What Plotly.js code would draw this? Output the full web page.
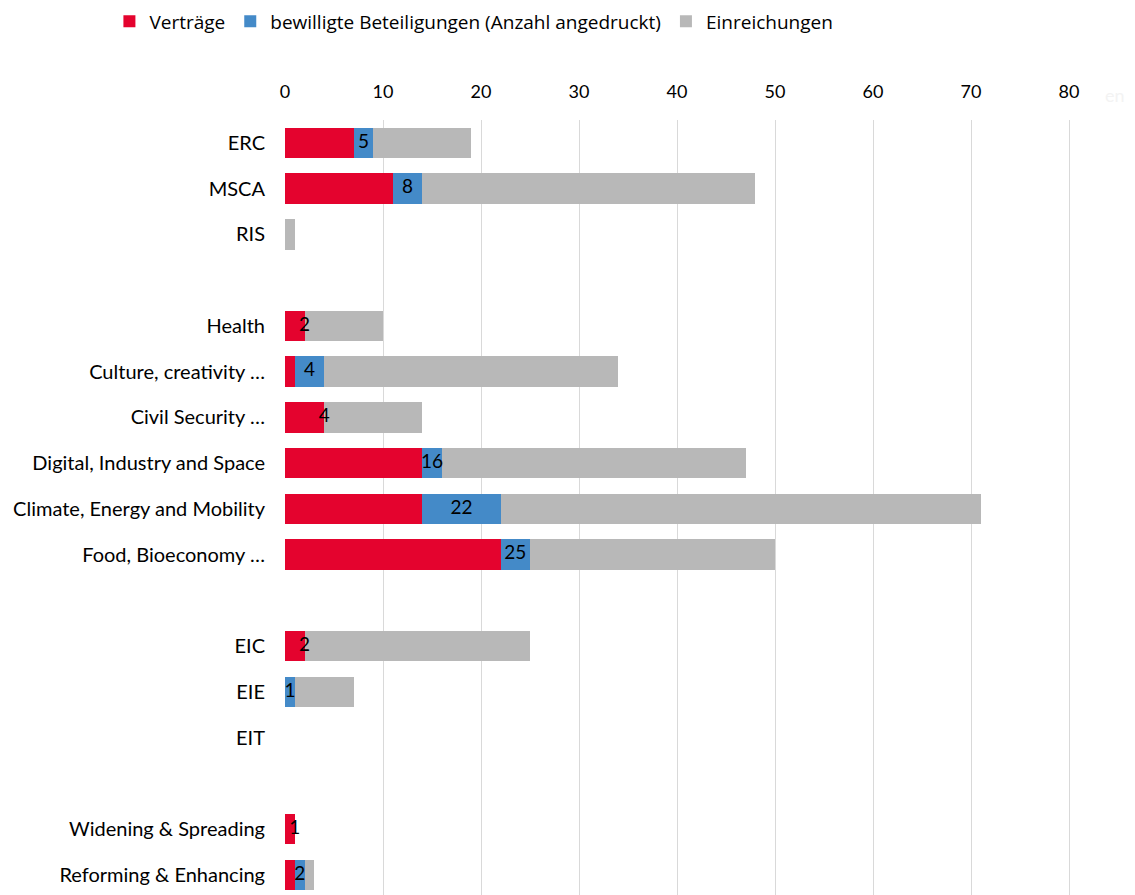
<!DOCTYPE html>
<html><head><meta charset="utf-8">
<script src="https://cdn.plot.ly/plotly-3.0.1.min.js"></script>
<style>html,body{margin:0;padding:0;background:#fff}</style>
</head><body><div id="chart" style="width:1135px;height:895px"></div>
<script>
var categories = ["ERC","MSCA","RIS"," ","Health","Culture, creativity …","Civil Security …","Digital, Industry and Space","Climate, Energy and Mobility","Food, Bioeconomy …","  ","EIC","EIE","EIT","   ","Widening & Spreading","Reforming & Enhancing"];
var vertraege = [7,11,0,0,2,1,4,14,14,22,0,2,0,0,0,1,1];
var bewilligtSegment = [2,3,0,0,0,3,0,2,8,3,0,0,1,0,0,0,1];
var einreichungenSegment = [10,34,1,0,8,30,10,31,49,25,0,23,6,0,0,0,1];
var bewilligtLabels = ["5","8","","","2","4","4","16","22","25","","2","1","","","1","2"];

var fontFam = 'Lato, "Open Sans", sans-serif';
var labelX = vertraege.map(function(v,i){return v + bewilligtSegment[i]/2;});

var traces = [
 {type:'bar',orientation:'h',name:'Verträge',y:categories,x:vertraege,marker:{color:'#E4032E'},hoverinfo:'x+y'},
 {type:'bar',orientation:'h',name:'bewilligte Beteiligungen (Anzahl angedruckt)',y:categories,x:bewilligtSegment,marker:{color:'#448AC8'},hoverinfo:'x+y'},
 {type:'bar',orientation:'h',name:'Einreichungen',y:categories,x:einreichungenSegment,marker:{color:'#B8B8B8'},hoverinfo:'x+y'},
 {type:'scatter',mode:'text',y:categories,x:labelX,text:bewilligtLabels,textposition:'middle center',textfont:{family:fontFam,size:19,color:'#000'},showlegend:false,cliponaxis:false,hoverinfo:'skip'}
];

var layout = {
 width:1135,height:895,
 margin:{l:285,r:17,t:120,b:0},
 paper_bgcolor:'#fff',plot_bgcolor:'#fff',
 barmode:'stack',bargap:0.33,
 font:{family:fontFam,size:19,color:'#000'},
 showlegend:true,
 legend:{orientation:'h',xref:'container',yref:'container',x:0.0964,y:0.9974,xanchor:'left',yanchor:'top',font:{family:'"Open Sans", sans-serif',size:19,color:'#000'},traceorder:'normal'},
 xaxis:{side:'top',range:[0,85],tickvals:[0,10,20,30,40,50,60,70,80],showgrid:true,gridcolor:'#d9d9d9',gridwidth:1,zeroline:false,showline:false,ticks:'outside',ticklen:14,tickcolor:'rgba(0,0,0,0)',tickfont:{size:18}},
 yaxis:{type:'category',autorange:false,range:[16.44,-0.5],showgrid:false,zeroline:false,showline:false,ticks:'outside',ticklen:15,tickcolor:'rgba(0,0,0,0)',tickfont:{size:20}},
 annotations:[{xref:'paper',yref:'paper',x:1.0,y:1.0,xshift:9,yshift:25,xanchor:'right',yanchor:'middle',text:'en',showarrow:false,font:{size:18,color:'#f3f3f3'}}]
};
Plotly.newPlot('chart',traces,layout,{displayModeBar:false});
</script></body></html>
